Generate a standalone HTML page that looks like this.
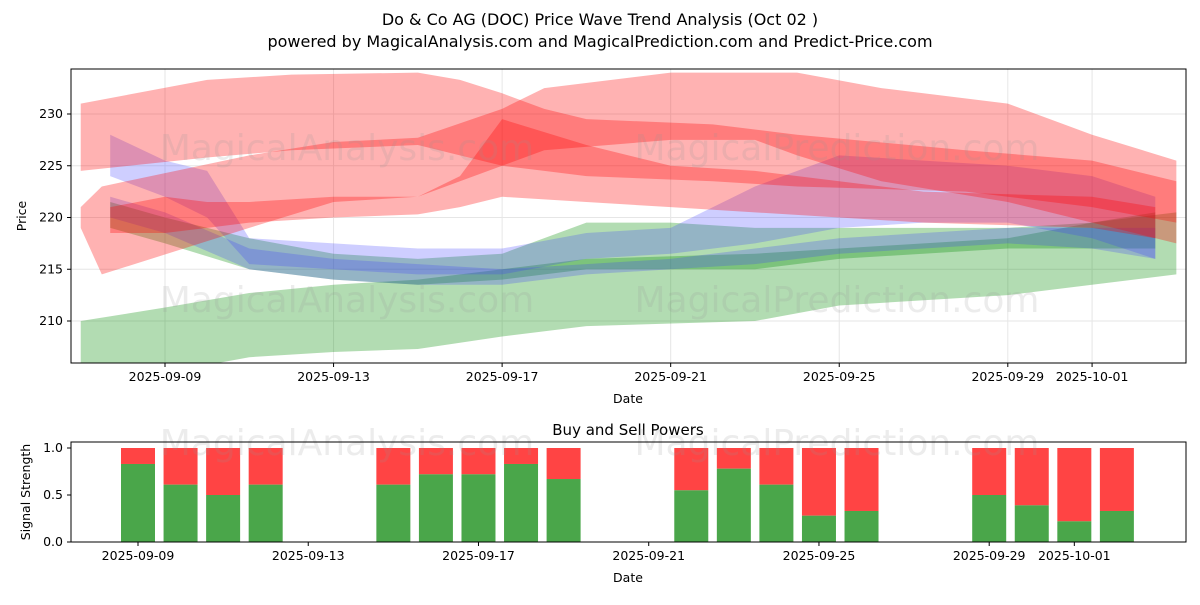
<!DOCTYPE html>
<html><head><meta charset="utf-8"><style>
body{margin:0;background:#fff;font-family:"Liberation Sans","DejaVu Sans",sans-serif}
svg text{font-family:"DejaVu Sans","Liberation Sans",sans-serif}
</style></head><body>
<svg id="c" width="1200" height="600"></svg>
<script>
const redBands=[
 {d:[-2,1,3,6,7,8,9,10,13,15,19,22,24],u:[231,233.3,233.8,234,233.3,232,230.5,229.5,229,228,226.5,225.5,223.5],l:[224.5,225.8,226.5,227,226,225,224.5,224,223.5,223,222.5,221,219.5]},
 {d:[-2,-1.5,2,4,6,8,9,12,14,15,17,20,22,24],u:[221,223,226,227.3,227.7,230.5,232.5,234,234,234,232.5,231,228,225.5],l:[219,214.5,219,221.5,222,225,226.5,227.5,227.5,226,223.5,221.5,219.5,217.5]},
 {d:[-1.3,0,1,2,4,6,7,8,10,12,14,16,18,22,23.5],u:[221,222,221.5,221.5,222,222,224,229.5,227,225,224.5,223.5,222.5,222,221],l:[218.5,218.5,219,219.5,220,220.3,221,222,221.5,221,220.5,220,219.5,219,218]}
];
const blueBands=[
 {d:[-1.3,0,1,2,4,6,8,10,12,14,16,18,20,22,23.5],u:[228,225.5,224.5,218,217.5,217,217,218.5,219,223,226,225.5,225,224,222],l:[224,222,220,215.5,215,214.5,214.5,216,216.5,217.5,219,219.5,219.5,218,216]},
 {d:[-1.3,0,2,4,6,8,10,12,14,16,18,20,22,23.5],u:[222,220.5,217,216,215.5,215,215.5,216,217,218,218.5,219,219,219],l:[220,218.5,215,214,213.5,213.5,214.5,215,215.5,216.5,217,217.5,217,216]}
];
const greenBands=[
 {d:[-2,0,2,4,6,8,10,14,16,20,22,24],u:[210,211.3,212.7,213.5,214,215,216,216.5,217,218,219.5,220.5],l:[202,205,206.5,207,207.3,208.5,209.5,210,211.5,212.5,213.5,214.5]},
 {d:[-1.3,0,2,4,6,8,10,12,14,16,18,20,22,23.5],u:[221.5,220,218,216.5,216,216.5,219.5,219.5,219,219,219,219,219.5,220.5],l:[219,217.5,215,214,213.5,214,215,215,215,216,216.5,217,217,217]}
];
const barDays=[0,1,2,3,6,7,8,9,10,13,14,15,16,17,20,21,22,23];
const buyVals=[0.83,0.61,0.5,0.61,0.61,0.72,0.72,0.83,0.67,0.55,0.78,0.61,0.28,0.33,0.5,0.39,0.22,0.33];
const xTickDays=[0,4,8,12,16,20,22];
const xTickLabels=["2025-09-09","2025-09-13","2025-09-17","2025-09-21","2025-09-25","2025-09-29","2025-10-01"];
const yTicks=[210,215,220,225,230];
const y2Ticks=[0,0.5,1];

const S=document.getElementById('c'),NS='http://www.w3.org/2000/svg';
function el(t,a,p){const e=document.createElementNS(NS,t);for(const k in a)e.setAttribute(k,a[k]);(p||S).appendChild(e);return e;}
function tx(x,y,s,o){const e=el('text',Object.assign({x:x,y:y,'font-size':13,fill:'#000'},o||{}));e.textContent=s;return e;}
const X=d=>165+d*42.14;
const X2=d=>138+d*42.56;
const Y=v=>321-(v-210)*10.35;
const Y2=v=>542-v*94;
const L=71,R=1186,T=69,B=363;

let t=tx(600,25,"Do & Co AG (DOC) Price Wave Trend Analysis (Oct 02 )",{'text-anchor':'middle','font-size':16});

t=tx(600,47,"powered by MagicalAnalysis.com and MagicalPrediction.com and Predict-Price.com",{'text-anchor':'middle','font-size':16});


el('clipPath',{id:'cp'}).appendChild(el('rect',{x:L,y:T,width:R-L,height:B-T}));
const g1=el('g',{'clip-path':'url(#cp)'});

xTickDays.forEach(d=>el('line',{x1:X(d),x2:X(d),y1:T,y2:B,stroke:'#e6e6e6'},g1));
yTicks.forEach(v=>el('line',{x1:L,x2:R,y1:Y(v),y2:Y(v),stroke:'#e6e6e6'},g1));
function band(b,col,name){
 let p=b.d.map((d,i)=>X(d)+','+Y(b.u[i]));
 for(let i=b.d.length-1;i>=0;i--)p.push(X(b.d[i])+','+Y(b.l[i]));
 const e=el('polygon',{points:p.join(' '),fill:col},g1);
 
}
greenBands.forEach((b,i)=>band(b,'rgba(0,140,0,0.3)','green-band-'+i));
blueBands.forEach((b,i)=>band(b,'rgba(60,60,255,0.25)','blue-band-'+i));
redBands.forEach((b,i)=>band(b,'rgba(255,0,0,0.3)','red-band-'+i));
[[347,160],[837,160],[347,312],[837,312]].forEach((p,i)=>tx(p[0],p[1],i%2?"MagicalPrediction.com":"MagicalAnalysis.com",{'text-anchor':'middle','font-size':36,fill:'rgba(150,150,150,0.18)'},g1));
el('rect',{x:L,y:T,width:R-L,height:B-T,fill:'none',stroke:'#000'});
yTicks.forEach(v=>{el('line',{x1:L-4,x2:L,y1:Y(v),y2:Y(v),stroke:'#000'});tx(L-8,Y(v)+4,v,{'text-anchor':'end','font-size':12.5});});
xTickDays.forEach((d,i)=>{el('line',{x1:X(d),x2:X(d),y1:B,y2:B+4,stroke:'#000'});tx(X(d),B+18,xTickLabels[i],{'text-anchor':'middle','font-size':12.5});});
tx(628,403,"Date",{'text-anchor':'middle','font-size':12.5});
tx(26,216,"Price",{'text-anchor':'middle','font-size':12.5,transform:'rotate(-90 26 216)'});

const L2=71,T2=442,B2=542;
tx(628,435,"Buy and Sell Powers",{'text-anchor':'middle','font-size':15});
const g2=el('g');
[[347,455],[837,455]].forEach((p,i)=>tx(p[0],p[1],i?"MagicalPrediction.com":"MagicalAnalysis.com",{'text-anchor':'middle','font-size':36,fill:'rgba(150,150,150,0.18)'},g2));
barDays.forEach((d,i)=>{
 const w=34,x=X2(d)-w/2;
 const s=el('rect',{x:x,y:Y2(1),width:w,height:Y2(buyVals[i])-Y2(1),fill:'#ff4444'},g2);
 
 const b=el('rect',{x:x,y:Y2(buyVals[i]),width:w,height:Y2(0)-Y2(buyVals[i]),fill:'#4aa64a'},g2);
 
});
el('rect',{x:L2,y:T2,width:R-L2,height:B2-T2,fill:'none',stroke:'#000'});
y2Ticks.forEach(v=>{el('line',{x1:L2-4,x2:L2,y1:Y2(v),y2:Y2(v),stroke:'#000'});tx(L2-8,Y2(v)+4,v.toFixed(1),{'text-anchor':'end','font-size':12.5});});
xTickDays.forEach((d,i)=>{el('line',{x1:X2(d),x2:X2(d),y1:B2,y2:B2+4,stroke:'#000'});tx(X2(d),B2+18,xTickLabels[i],{'text-anchor':'middle','font-size':12.5});});
tx(628,582,"Date",{'text-anchor':'middle','font-size':12.5});
tx(30,492,"Signal Strength",{'text-anchor':'middle','font-size':12.5,transform:'rotate(-90 30 492)'});
</script>
</body></html>
